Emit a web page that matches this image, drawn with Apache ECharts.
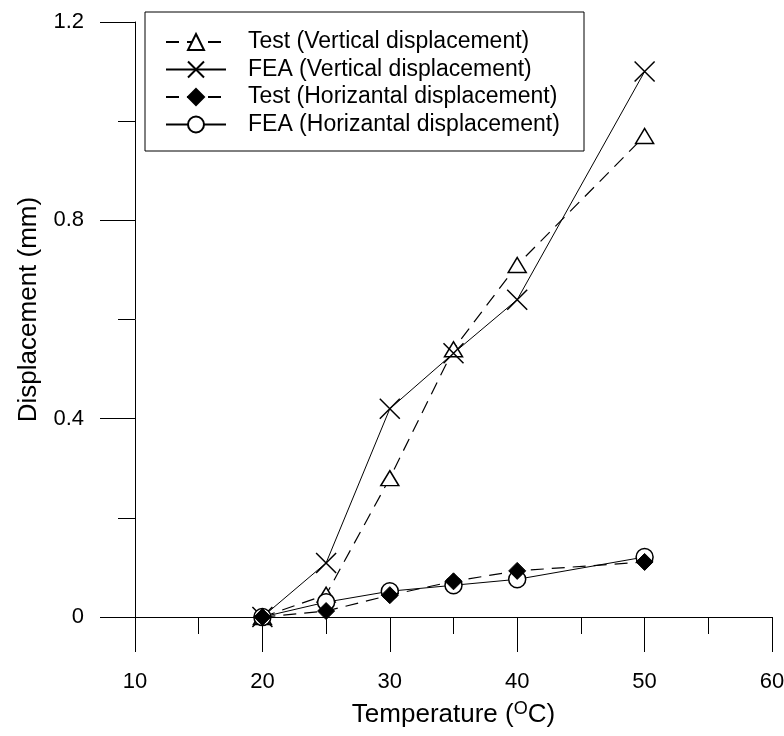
<!DOCTYPE html>
<html><head><meta charset="utf-8">
<script src="https://cdn.jsdelivr.net/npm/echarts@6/dist/echarts.min.js"></script>
<style>html,body{margin:0;padding:0;background:#fff}#c{width:784px;height:736px}</style>
</head><body><div id="c"></div>
<script>
const temperature = [20, 25, 30, 35, 40, 50];
const testVertical = [0, 0.045, 0.28, 0.54, 0.71, 0.97];
const feaVertical = [0, 0.109, 0.42, 0.532, 0.64, 1.10];
const testHorizontal = [0, 0.012, 0.044, 0.072, 0.093, 0.111];
const feaHorizontal = [0, 0.03, 0.052, 0.064, 0.076, 0.121];
const seriesNames = [
  'Test (Vertical displacement)',
  'FEA (Vertical displacement)',
  'Test (Horizantal displacement)',
  'FEA (Horizantal displacement)'
];
const xTicks = [10, 60, 10];
const yTicks = [0, 1.2, 0.4];

const FONT = 'Liberation Sans, Arial, sans-serif';
const pairs = arr => temperature.map((t, i) => [t, arr[i]]);
const crossPath = 'path://M0,0L10,10M10,0L0,10';

const chart = echarts.init(document.getElementById('c'), null, {renderer: 'canvas'});
chart.setOption({
  animation: false,
  backgroundColor: '#fff',
  textStyle: {fontFamily: FONT, color: '#000'},
  grid: {left: 135, right: 12, top: 22, bottom: 119, outerBoundsMode: 'none'},
  legend: {
    orient: 'vertical',
    left: 145, top: 12,
    padding: [18.5, 6, 15, 20],
    itemGap: 4.5,
    itemWidth: 60,
    itemHeight: 20,
    borderColor: '#000',
    borderWidth: 1,
    borderRadius: 0,
    selectedMode: false,
    data: seriesNames,
    textStyle: {fontFamily: FONT, fontSize: 23, color: '#000', padding: [0, 0, 0, 17], width: 330, lineHeight: 23}
  },
  xAxis: {
    type: 'value', min: xTicks[0], max: xTicks[1], interval: xTicks[2],
    name: '{t|Temperature (}{s|O}{t|C)}',
    nameLocation: 'middle', nameGap: 83,
    nameTextStyle: {
      rich: {
        t: {fontFamily: FONT, fontSize: 26, color: '#000', lineHeight: 30},
        s: {fontFamily: FONT, fontSize: 18, color: '#000', verticalAlign: 'top', lineHeight: 30}
      }
    },
    axisLine: {show: true, onZero: false, lineStyle: {color: '#000', width: 1}},
    axisTick: {show: true, inside: false, length: 35, lineStyle: {color: '#000', width: 1}},
    minorTick: {show: true, splitNumber: 2, length: 17, lineStyle: {color: '#000', width: 1}},
    splitLine: {show: false},
    axisLabel: {fontFamily: FONT, fontSize: 22, color: '#000', margin: 54}
  },
  yAxis: {
    type: 'value', min: yTicks[0], max: yTicks[1], interval: yTicks[2],
    name: 'Displacement (mm)',
    nameLocation: 'middle', nameGap: 93,
    nameTextStyle: {fontFamily: FONT, fontSize: 26, color: '#000', padding: [0, 0, 0, 20]},
    axisLine: {show: true, onZero: false, lineStyle: {color: '#000', width: 1}},
    axisTick: {show: true, inside: false, length: 35, lineStyle: {color: '#000', width: 1}},
    minorTick: {show: true, splitNumber: 2, length: 17, lineStyle: {color: '#000', width: 1}},
    splitLine: {show: false},
    axisLabel: {fontFamily: FONT, fontSize: 22, color: '#000', margin: 51}
  },
  series: [
    {
      name: seriesNames[0], type: 'line', data: pairs(testVertical),
      symbol: 'triangle', symbolSize: [18, 15],
      lineStyle: {color: '#000', width: 1.2, type: [13, 8]},
      itemStyle: {color: '#fff', borderColor: '#000', borderWidth: 1.5},
      emphasis: {disabled: true}
    },
    {
      name: seriesNames[1], type: 'line', data: pairs(feaVertical),
      symbol: crossPath, symbolSize: 20,
      lineStyle: {color: '#000', width: 1},
      itemStyle: {color: 'rgba(0,0,0,0)', borderColor: '#000', borderWidth: 1.5},
      emphasis: {disabled: true}
    },
    {
      name: seriesNames[2], type: 'line', data: pairs(testHorizontal),
      symbol: 'diamond', symbolSize: 17, z: 4,
      lineStyle: {color: '#000', width: 1.2, type: [13, 8]},
      itemStyle: {color: '#000', borderColor: '#000', borderWidth: 1},
      emphasis: {disabled: true}
    },
    {
      name: seriesNames[3], type: 'line', data: pairs(feaHorizontal),
      symbol: 'circle', symbolSize: 17, z: 3,
      lineStyle: {color: '#000', width: 1},
      itemStyle: {color: '#fff', borderColor: '#000', borderWidth: 1.5},
      emphasis: {disabled: true}
    }
  ]
});
</script>
</body></html>
